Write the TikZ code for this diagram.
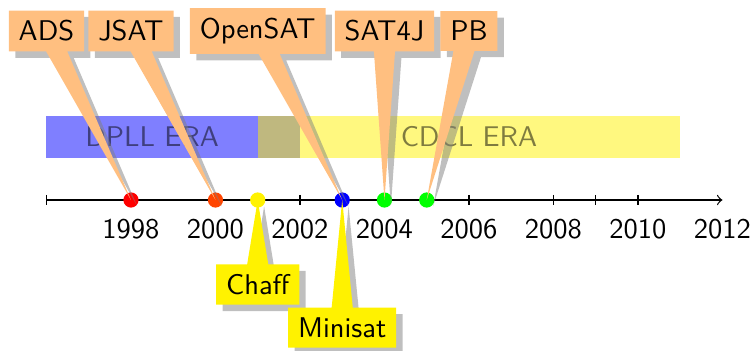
\documentclass[tikz,border=0pt]{standalone}
\usepackage{tikz}
\usetikzlibrary{shapes.callouts,shadows}
\definecolor{orangered}{RGB}{255,69,0}

\begin{document}
\begin{tikzpicture}[font=\sffamily\fontsize{9.6}{11.5}\selectfont,
			dot/.style={circle,inner sep=0pt,minimum size=0.18cm},
			tool/.style={rectangle callout,fill=orange!50,drop shadow},
			solver/.style={rectangle callout,fill=yellow,drop shadow}]
			\useasboundingbox (-0.55,-1.787) rectangle (8.385,2.367);
			% eras
			\fill[blue,opacity=0.5] (0,0.5) rectangle (3,1);
			\fill[yellow,opacity=0.5] (2.5,0.5) rectangle (7.5,1);
			\node[opacity=0.5] (dpll) at (1.25,0.75) {DPLL ERA};
			\node[opacity=0.5] (cdcl) at (5,0.75) {CDCL ERA};
			% time line
			\draw[->] (0,0) -- (8,0);
			\foreach \x in {0,1,2,3,4,5,6,6.5,7}
				\draw (\x,0.06) -- (\x,-0.06);
			\foreach \x/\y in {1/1998,2/2000,3/2002,4/2004,5/2006,6/2008,7/2010,8/2012}
				\node[anchor=north] (y\y) at (\x,-0.1) {\y};
			% releases
			\node[dot,fill=red] (A) at (1,0) {};
			\node[dot,fill=orangered] (J) at (2,0) {};
			\node[dot,fill=yellow] (C) at (2.5,0) {};
			\node[dot,fill=blue] (M) at (3.5,0) {};
			\node[dot,fill=green] (S) at (4,0) {};
			\node[dot,fill=green] (P) at (4.5,0) {};
			\node[tool,callout absolute pointer={(A.center)}] (ads) at (0,2) {ADS};
			\node[tool,callout absolute pointer={(J.center)}] (jsat) at (1,2) {JSAT};
			\node[tool,callout absolute pointer={(M.center)}] (opensat) at (2.5,2) {OpenSAT};
			\node[tool,callout absolute pointer={(S.center)}] (sat4j) at (4,2) {SAT4J};
			\node[tool,callout absolute pointer={(P.center)}] (pb) at (5,2) {PB};
			\node[solver,callout absolute pointer={(C.center)}] (chaff) at (2.5,-1) {Chaff};
			\node[solver,callout absolute pointer={(M.center)}] (minisat) at (3.5,-1.51) {Minisat};
		\end{tikzpicture}
\end{document}
